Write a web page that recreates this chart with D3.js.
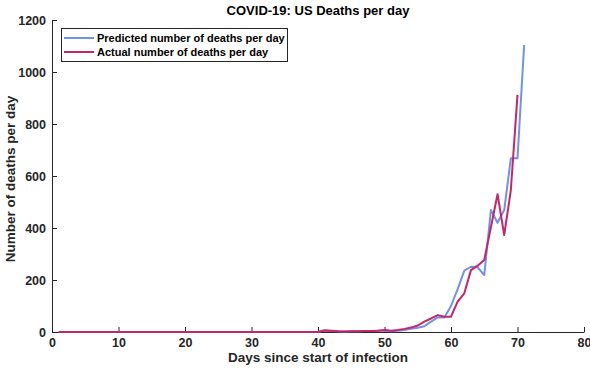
<!DOCTYPE html>
<html>
<head>
<meta charset="utf-8">
<script src="https://cdn.jsdelivr.net/npm/d3@7"></script>
<style>
  html, body { margin: 0; padding: 0; background: #fff; }
  svg { display: block; font-family: "Liberation Sans", Arial, Helvetica, sans-serif; }
</style>
</head>
<body>
<svg id="chart" width="590" height="368"></svg>
<script>
// ---- data ----
const title = "COVID-19: US Deaths per day";
const xLabel = "Days since start of infection";
const yLabel = "Number of deaths per day";
const seriesNames = ["Predicted number of deaths per day", "Actual number of deaths per day"];
const xTicks = [0, 10, 20, 30, 40, 50, 60, 70, 80];
const yTicks = [0, 200, 400, 600, 800, 1000, 1200];

// days 1..71 (predicted), days 1..70 (actual)
const predictedDays = d3.range(1, 72);
const predicted = [
  0,0,0,0,0,0,0,0,0,0,
  0,0,0,0,0,0,0,0,0,0,
  0,0,0,0,0,0,0,0,0,0,
  0,0,0,0,0,0,0,0,0,0,
  7,4,3,2,3,3,4,4,5,5,
  3,5,8,12,16,22,40,56,56,100,
  165,236,251,249,219,469,420,469,668,668,
  1104
];
const actualDays = d3.range(1, 71);
const actual = [
  0,0,0,0,0,0,0,0,0,0,
  0,0,0,0,0,0,0,0,0,0,
  0,0,0,0,0,0,0,0,0,0,
  0,0,0,0,0,0,0,0,0,0,
  6,5,3,2,3,3,4,4,5,8,
  5,8,12,17,25,40,52,65,59,59,
  117,149,238,255,277,403,530,373,546,912
];

// ---- chart ----
const svg = d3.select("#chart");
const x = d3.scaleLinear().domain([0, 80]).range([52, 584]);
const y = d3.scaleLinear().domain([0, 1200]).range([332, 20]);
const colors = ["#6f93ea", "#c8246a"];
const fmt = d3.format("d");

// axes (inward ticks, MATLAB style)
const xAxis = svg.append("g").attr("transform", `translate(0,${y(0)})`)
  .call(d3.axisBottom(x).tickValues(xTicks).tickFormat(fmt).tickSizeInner(-5).tickSizeOuter(0).tickPadding(4));
const yAxis = svg.append("g").attr("transform", `translate(${x(0)},0)`)
  .call(d3.axisLeft(y).tickValues(yTicks).tickFormat(fmt).tickSizeInner(-5).tickSizeOuter(0).tickPadding(6));
[xAxis, yAxis].forEach(g => {
  g.select(".domain").attr("stroke", "#262626").attr("stroke-width", 1);
  g.selectAll(".tick line").attr("stroke", "#262626");
  g.selectAll(".tick text").attr("fill", "#262626").attr("font-size", 12.5).attr("font-weight", "bold")
    .attr("font-family", "'Liberation Sans', Arial, sans-serif");
});
xAxis.selectAll(".tick text").attr("dy", "0.85em");

// lines
const line = d3.line().x(d => x(d[0])).y(d => y(d[1]));
const series = [
  d3.zip(predictedDays, predicted),
  d3.zip(actualDays, actual)
];
series.forEach((s, i) => {
  svg.append("path").datum(s)
    .attr("fill", "none").attr("stroke", colors[i]).attr("stroke-width", 2)
    .attr("stroke-linejoin", "round").attr("d", line);
});

// title and labels
svg.append("text").attr("x", 318).attr("y", 15).attr("text-anchor", "middle")
  .attr("font-size", 13).attr("font-weight", "bold").attr("fill", "#000").text(title);
svg.append("text").attr("x", 318).attr("y", 362).attr("text-anchor", "middle")
  .attr("font-size", 13.5).attr("font-weight", "bold").attr("fill", "#262626").text(xLabel);
svg.append("text").attr("transform", `translate(15,${(y(0) + y(1200)) / 2 + 3}) rotate(-90)`)
  .attr("text-anchor", "middle").attr("font-size", 13.5).attr("font-weight", "bold")
  .attr("fill", "#262626").text(yLabel);

// legend
const lg = svg.append("g");
lg.append("rect").attr("x", 61.5).attr("y", 28.5).attr("width", 226).attr("height", 33)
  .attr("fill", "#fff").attr("stroke", "#262626").attr("stroke-width", 1);
seriesNames.forEach((n, i) => {
  const cy = 38 + i * 14;
  lg.append("line").attr("x1", 64).attr("x2", 94).attr("y1", cy).attr("y2", cy)
    .attr("stroke", colors[i]).attr("stroke-width", 2);
  lg.append("text").attr("x", 97).attr("y", cy + 4).attr("font-size", 11)
    .attr("font-weight", "bold").attr("fill", "#000").text(n);
});
</script>
</body>
</html>
